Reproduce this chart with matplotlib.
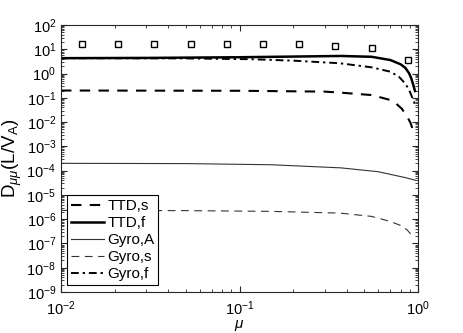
import matplotlib.pyplot as plt
from matplotlib.ticker import LogLocator, NullFormatter

plt.rcParams['font.family'] = ['Liberation Sans', 'DejaVu Sans']
plt.rcParams['mathtext.fontset'] = 'custom'
plt.rcParams['mathtext.it'] = 'Liberation Sans:italic'
plt.rcParams['mathtext.rm'] = 'Liberation Sans'

# squares
mu_sq = [0.0131, 0.0208, 0.0332, 0.0535, 0.0851, 0.1355, 0.2155, 0.343, 0.552, 0.879]
d_sq = [16, 16, 16, 16, 16, 16, 16, 14, 11, 3.7]

mu_ttdf = [0.01, 0.03, 0.1, 0.2, 0.37, 0.55, 0.7, 0.8, 0.85, 0.89, 0.915, 0.94, 0.962]
d_ttdf = [4.3, 4.4, 4.7, 5.0, 5.3, 4.9, 3.6, 2.4, 1.7, 1.05, 0.66, 0.35, 0.19]

mu_gyrof = [0.01, 0.05, 0.115, 0.2, 0.366, 0.55, 0.697, 0.78, 0.845, 0.89, 0.925, 0.95, 0.962]
d_gyrof = [4.3, 4.2, 3.9, 3.4, 2.65, 1.8, 1.2, 0.75, 0.40, 0.22, 0.11, 0.068, 0.051]

mu_ttds = [0.01, 0.1, 0.3, 0.366, 0.55, 0.697, 0.75, 0.813, 0.878, 0.91, 0.935]
d_ttds = [0.2, 0.195, 0.18, 0.164, 0.13, 0.082, 0.06, 0.035, 0.0148, 0.009, 0.0048]

mu_gyroa = [0.01, 0.05, 0.15, 0.37, 0.6, 0.845, 0.97]
d_gyroa = [2.0e-4, 1.95e-4, 1.75e-4, 1.3e-4, 9e-5, 5.2e-5, 4e-5]

mu_gyros = [0.01, 0.05, 0.15, 0.366, 0.55, 0.697, 0.8, 0.87, 0.95]
d_gyros = [2.3e-6, 2.25e-6, 2.1e-6, 1.78e-6, 1.3e-6, 8.1e-7, 5.5e-7, 3.6e-7, 1.66e-7]

fig = plt.figure(figsize=(4.63, 3.33), dpi=100)
ax = fig.add_axes([61/463, 1-292/333, 357/463, 267/333])

ax.plot(mu_sq, d_sq, 's', ms=4.5, mfc='none', mec='black', mew=1.0)
ax.plot(mu_ttds, d_ttds, '--', color='black', lw=1.5, dashes=(5, 4), label='TTD,s')
ax.plot(mu_ttdf, d_ttdf, '-', color='black', lw=1.8, label='TTD,f')
ax.plot(mu_gyroa, d_gyroa, '-', color='#333333', lw=0.8, label='Gyro,A')
ax.plot(mu_gyros, d_gyros, '--', color='#333333', lw=0.8, dashes=(7, 5), label='Gyro,s')
ax.plot(mu_gyrof, d_gyrof, '-.', color='black', lw=1.4, dashes=(4, 2, 1.2, 2), label='Gyro,f')

ax.set_xscale('log')
ax.set_yscale('log')
ax.set_xlim(1e-2, 1)
ax.set_ylim(1e-9, 1e2)
ax.yaxis.set_major_locator(LogLocator(base=10, numticks=20))
ax.yaxis.set_minor_locator(LogLocator(base=10, subs=range(2, 10), numticks=20))
ax.yaxis.set_minor_formatter(NullFormatter())

for s in ax.spines.values():
    s.set_color('#262626')
    s.set_linewidth(0.8)
ax.tick_params(which='both', direction='in', top=True, right=True, colors='#262626',
               labelcolor='black', labelsize=10.5)
ax.tick_params(which='major', length=4)
ax.tick_params(which='minor', length=2)
ax.tick_params(axis='x', pad=5)

ax.set_xlabel(r'$\mu$', fontsize=11, labelpad=0)
ax.set_ylabel(r'D$_{\mu\mu}$(L/V$_\mathrm{A}$)', fontsize=13.5, labelpad=2)

leg = ax.legend(loc='lower left', bbox_to_anchor=(6/357, 7/267), fontsize=11,
                fancybox=False, edgecolor='black', framealpha=1,
                handlelength=2.2, handletextpad=0.2, labelspacing=0.2,
                borderpad=0.25, borderaxespad=0)
leg.get_frame().set_linewidth(0.8)

fig.savefig('out.png', dpi=100)
